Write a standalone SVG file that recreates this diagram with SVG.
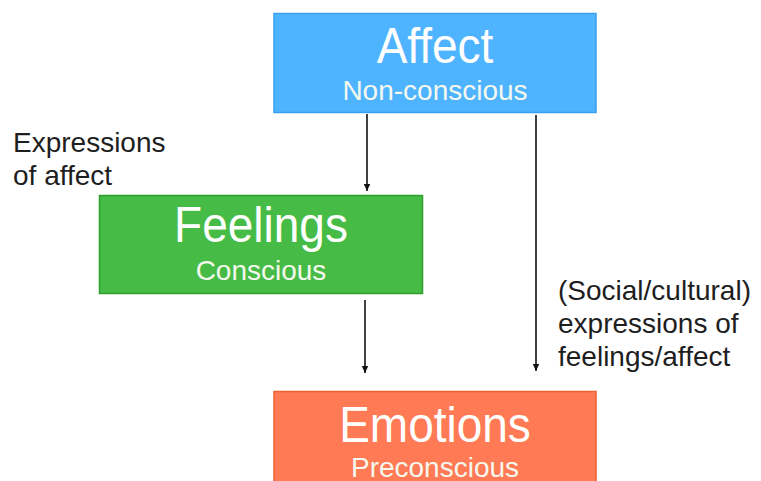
<svg xmlns="http://www.w3.org/2000/svg" width="761" height="481" viewBox="0 0 761 481">
<style>
.title{font-family:"Liberation Sans",Arial,sans-serif;font-size:46px;fill:#ffffff;text-anchor:middle}
.sub{font-family:"Liberation Sans",Arial,sans-serif;font-size:28px;fill:#f4f8ee;text-anchor:middle}
.lbl{font-family:"Liberation Sans",Arial,sans-serif;font-size:28px;fill:#1e1e1e}
.conn{stroke:#111;stroke-width:1.6;fill:none}
</style>
<defs>
<marker id="ah" markerWidth="8" markerHeight="8" refX="7" refY="4" orient="auto" markerUnits="userSpaceOnUse">
<path d="M0,0.8 L7,4 L0,7.2 Z" fill="#111"/>
</marker>
</defs>
<rect width="761" height="481" fill="#ffffff"/>
<g id="affect">
<rect x="274" y="13.5" width="322" height="99" fill="#4fb4ff" stroke="#3a9ef0" stroke-width="1.5"/>
<text class="title" x="435" y="63" transform="translate(0,-5) scale(1,1.08)">Affect</text>
<text class="sub" x="435" y="100">Non-conscious</text>
</g>
<g id="feelings">
<rect x="99.5" y="195.5" width="323" height="98" fill="#46bc46" stroke="#2e9e2e" stroke-width="1.5"/>
<text class="title" x="261" y="242" transform="translate(0,-19.4) scale(1,1.08)">Feelings</text>
<text class="sub" x="261" y="280">Conscious</text>
</g>
<g id="emotions">
<rect x="274" y="391.5" width="322" height="100" fill="#ff7a55" stroke="#f06030" stroke-width="1.5"/>
<text class="title" x="435" y="442" transform="translate(0,-35.4) scale(1,1.08)">Emotions</text>
<text class="sub" x="435" y="477">Preconscious</text>
</g>
<g id="connectors">
<line class="conn" x1="367" y1="114" x2="367" y2="191" marker-end="url(#ah)" stroke-width="2"/>
<line class="conn" x1="365" y1="300" x2="365" y2="373" marker-end="url(#ah)"/>
<line class="conn" x1="536" y1="115" x2="536" y2="371" marker-end="url(#ah)"/>
</g>
<g id="labels">
<text class="lbl" x="13" y="152">Expressions</text>
<text class="lbl" x="13" y="185">of affect</text>
<text class="lbl" x="558" y="300">(Social/cultural)</text>
<text class="lbl" x="558" y="333">expressions of</text>
<text class="lbl" x="558" y="366">feelings/affect</text>
</g>
</svg>
